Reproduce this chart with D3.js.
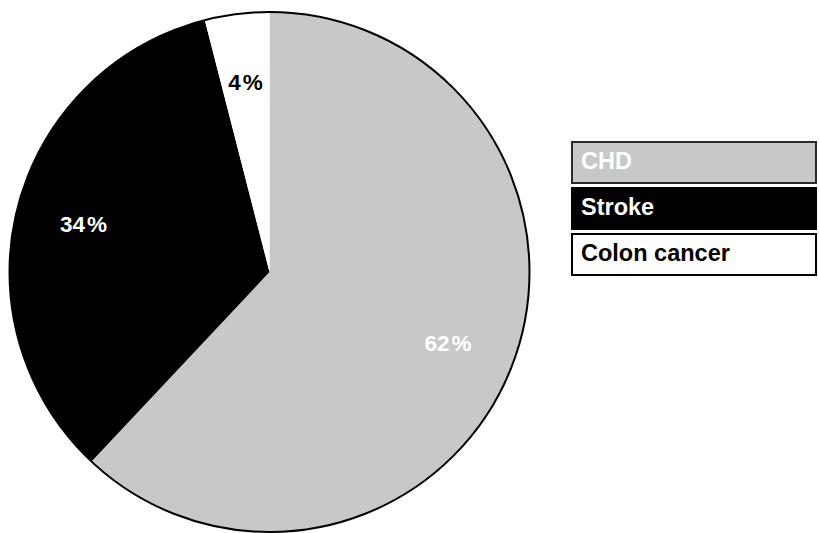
<!DOCTYPE html>
<html>
<head>
<meta charset="utf-8">
<script src="https://cdn.jsdelivr.net/npm/d3@7"></script>
<style>
  html, body { margin: 0; padding: 0; background: #fff; }
  svg { display: block; }
  text { font-family: "Liberation Sans", Arial, Helvetica, sans-serif; font-weight: bold; }
</style>
</head>
<body>
<svg id="chart" width="819" height="533"></svg>
<script>
// Share of cases by disease
const categories = ["CHD", "Stroke", "Colon cancer"];
const values = [62, 34, 4];
const fills = ["#c8c8c8", "#000000", "#ffffff"];
const labelColors = ["#ffffff", "#ffffff", "#000000"];
const legendBorders = ["#2a2a2a", "#000000", "#000000"];

const svg = d3.select("#chart");

const cx = 269.5, cy = 272, R = 260;

const pie = d3.pie().sort(null).value(d => d)(values);
const arc = d3.arc().innerRadius(0).outerRadius(R);
const labelArc = d3.arc().innerRadius(192).outerRadius(192);

const g = svg.append("g").attr("transform", `translate(${cx},${cy})`);

g.selectAll("path.slice")
  .data(pie)
  .join("path")
  .attr("class", "slice")
  .attr("d", arc)
  .attr("fill", (d, i) => fills[i]);

// outer rim
g.append("circle")
  .attr("r", R)
  .attr("fill", "none")
  .attr("stroke", "#000")
  .attr("stroke-width", 2);

g.selectAll("text.pct")
  .data(pie)
  .join("text")
  .attr("class", "pct")
  .attr("transform", d => `translate(${labelArc.centroid(d)})`)
  .attr("text-anchor", "middle")
  .attr("dy", "0.36em")
  .attr("font-size", 22.5)
  .attr("fill", (d, i) => labelColors[i])
  .each(function (d) {
    const t = d3.select(this);
    t.append("tspan").text(d.data);
    t.append("tspan").attr("dx", 2).text("%");
  });

// legend
const legend = svg.append("g").attr("transform", "translate(572,142)");
const rowH = 41, rowGap = 46, boxW = 244;

const rows = legend.selectAll("g.row")
  .data(categories)
  .join("g")
  .attr("class", "row")
  .attr("transform", (d, i) => `translate(0,${i * rowGap})`);

rows.append("rect")
  .attr("width", boxW)
  .attr("height", rowH)
  .attr("fill", (d, i) => fills[i])
  .attr("stroke", (d, i) => legendBorders[i])
  .attr("stroke-width", 2);

rows.append("text")
  .attr("x", 9)
  .attr("y", 26.5)
  .attr("font-size", 23.5)
  .attr("fill", (d, i) => labelColors[i])
  .text(d => d);
</script>
</body>
</html>
